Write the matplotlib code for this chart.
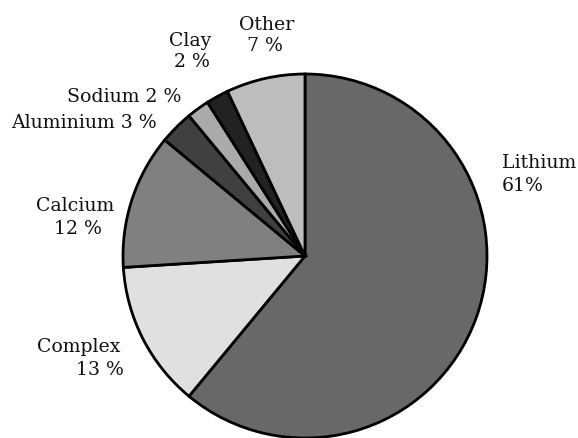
import matplotlib
matplotlib.use("Agg")
import matplotlib.pyplot as plt

# Share of each category (percent)
categories = ["Lithium", "Complex", "Calcium", "Aluminium", "Sodium", "Clay", "Other"]
shares = [61, 13, 12, 3, 2, 2, 7]
colors = ["#686868", "#e0e0e0", "#808080", "#404040", "#aaaaaa", "#222222", "#bdbdbd"]

W, H = 578, 438
fig = plt.figure(figsize=(W / 100, H / 100), dpi=100)
ax = fig.add_axes([0, 0, 1, 1])

cx, cy, r = 305, H - 256, 182
ax.pie(shares, colors=colors, startangle=90, counterclock=False,
       center=(cx, cy), radius=r, frame=True,
       wedgeprops=dict(edgecolor="black", linewidth=2))
ax.set_xlim(0, W)
ax.set_ylim(0, H)
ax.set_aspect("equal")
ax.axis("off")

font = dict(family="DejaVu Serif", fontsize=13.6, color="#111111")

def label(x, y, s, ha="center"):
    ax.text(x, H - y, s, ha=ha, va="center", **font)

label(267, 25, categories[6])
label(265, 46, f"{shares[6]} %")
label(190, 41, categories[5])
label(192, 62, f"{shares[5]} %")
label(181, 97, f"{categories[4]} {shares[4]} %", ha="right")
label(157, 123, f"{categories[3]} {shares[3]} %", ha="right")
label(75, 206, categories[2])
label(78, 229, f"{shares[2]} %")
label(120, 347, categories[1], ha="right")
label(124, 370, f"{shares[1]} %", ha="right")
label(502, 163, categories[0], ha="left")
label(502, 186, f"{shares[0]}%", ha="left")

fig.savefig("out.png", dpi=100)
